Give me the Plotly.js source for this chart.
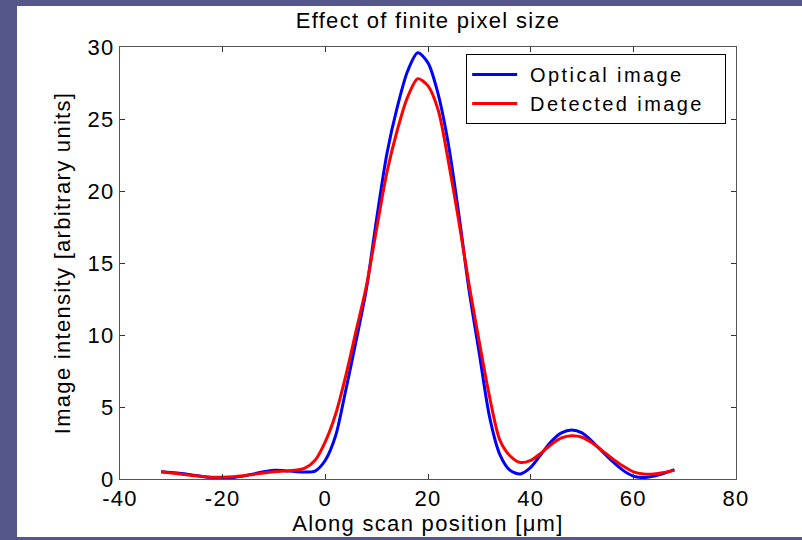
<!DOCTYPE html>
<html>
<head>
<meta charset="utf-8">
<script src="https://cdn.plot.ly/plotly-3.0.1.min.js"></script>
<style>
html,body{margin:0;padding:0;width:802px;height:540px;overflow:hidden;background:#55578a;}
#chart{position:absolute;left:17px;top:6px;width:785px;height:531px;background:#fff;}
text{letter-spacing:1.3px;}
text.legendtext{letter-spacing:2.4px;}
</style>
</head>
<body>
<div id="chart"></div>
<script>
const positions = [-32,-30,-28,-26,-24,-22,-20,-18,-16,-14,-12,-10,-8,-6,-4,-2,0,2,4,6,8,10,12,14,16,18,20,22,24,26,28,30,32,34,36,38,40,42,44,46,48,50,52,54,56,58,60,62,64,66,68];
const optical = [0.5,0.45,0.38,0.28,0.18,0.1,0.07,0.1,0.2,0.35,0.5,0.6,0.58,0.52,0.48,0.55,1.3,3.0,6.2,9.6,13.2,18.1,22.6,25.8,28.3,29.6,28.9,26.7,23.2,18.4,13.1,8.7,4.3,1.7,0.6,0.35,0.8,1.7,2.6,3.2,3.4,3.2,2.6,1.9,1.2,0.6,0.2,0.1,0.2,0.4,0.65];
const detected = [0.5,0.42,0.33,0.25,0.18,0.13,0.12,0.15,0.22,0.32,0.42,0.5,0.55,0.6,0.75,1.3,2.6,4.5,7.2,10.3,13.4,17.4,21.3,24.2,26.5,27.8,27.3,25.6,22.0,17.9,13.5,9.5,5.7,2.7,1.6,1.15,1.3,1.8,2.4,2.85,3.0,2.9,2.5,1.95,1.4,0.9,0.5,0.35,0.35,0.45,0.6];
const seriesNames = ["Optical image","Detected image"];
const xTicks = [-40,-20,0,20,40,60,80];
const yTicks = [0,5,10,15,20,25,30];

const font = {family:"Liberation Sans, Arial, sans-serif", color:"#000"};
const f = (s) => Object.assign({size:s}, font);
const pad = (s) => "\u00a0" + s + "\u00a0\u00a0";
const traces = [
  {x:positions, y:optical, name:pad(seriesNames[0]), mode:"lines", line:{color:"#0000ff", width:3, shape:"spline", smoothing:0.8}},
  {x:positions, y:detected, name:pad(seriesNames[1]), mode:"lines", line:{color:"#ff0000", width:3, shape:"spline", smoothing:0.8}}
];
const layout = {
  width:785, height:531,
  margin:{l:103, r:66, t:41, b:58},
  paper_bgcolor:"#fff", plot_bgcolor:"#fff",
  font:f(22),
  title:{text:"Effect of finite pixel size", font:f(22), xref:"paper", x:0.5, xanchor:"center", y:0.974, yanchor:"middle"},
  showlegend:true,
  legend:{x:0.984, xanchor:"right", y:0.984, yanchor:"top", bordercolor:"#000", borderwidth:1, bgcolor:"#fff", font:f(20), tracegroupgap:0, itemwidth:45},
  xaxis:{range:[-40,80], tickvals:xTicks, ticktext:xTicks.map(String), ticks:"inside", ticklen:5, tickcolor:"#333", showgrid:false, zeroline:false,
    showline:true, linecolor:"#555", linewidth:1, mirror:"ticks", tickfont:f(22),
    title:{text:"Along scan position [μm]", font:f(22), standoff:0}},
  yaxis:{range:[0,30], tickvals:yTicks, ticktext:yTicks.map(String), ticks:"inside", ticklen:5, tickcolor:"#333", showgrid:false, zeroline:false,
    showline:true, linecolor:"#555", linewidth:1, mirror:"ticks", tickfont:f(22),
    title:{text:"Image intensity [arbitrary units]", font:f(22), standoff:10}}
};
Plotly.newPlot("chart", traces, layout, {displayModeBar:false, staticPlot:true});
</script>
</body>
</html>
